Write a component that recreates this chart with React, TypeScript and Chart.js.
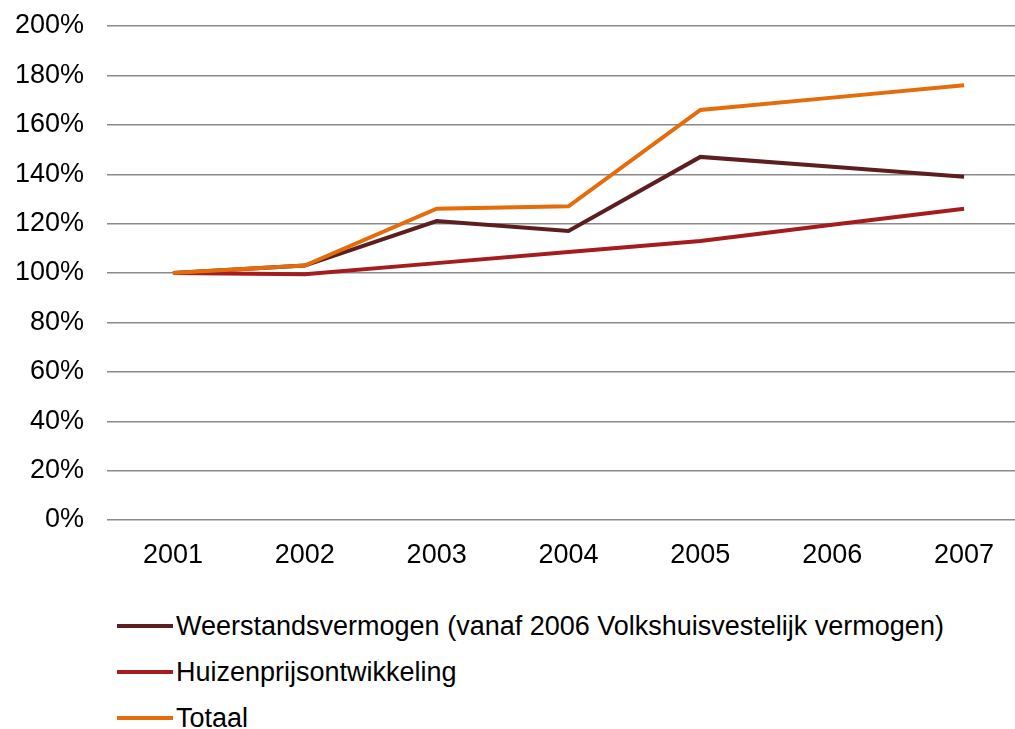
import React, { useEffect, useRef } from "react";
import { Chart, registerables } from "chart.js";

Chart.register(...registerables);

const years = ["2001", "2002", "2003", "2004", "2005", "2006", "2007"];
const weerstand = [100, 103, 121, 117, 147, 143, 139];
const huizen = [100, 99.5, 104, 108.5, 113, 119.5, 126];
const totaal = [100, 103, 126, 127, 166, 171, 176];
const seriesLabels = [
  "Weerstandsvermogen (vanaf 2006 Volkshuisvestelijk vermogen)",
  "Huizenprijsontwikkeling",
  "Totaal",
];
const seriesColors = ["#5C1E1E", "#A51C1F", "#E46C0A"];

const FONT = "'Liberation Sans', Arial, sans-serif";

export default function App() {
  const ref = useRef<HTMLCanvasElement>(null);

  useEffect(() => {
    if (!ref.current) return;
    const chart = new Chart(ref.current, {
      type: "line",
      data: {
        labels: years,
        datasets: [
          { label: seriesLabels[0], data: weerstand, borderColor: seriesColors[0], order: 2 },
          { label: seriesLabels[1], data: huizen, borderColor: seriesColors[1], order: 3 },
          { label: seriesLabels[2], data: totaal, borderColor: seriesColors[2], order: 1 },
        ].map((d) => ({
          ...d,
          borderWidth: 4,
          pointRadius: 0,
          pointHoverRadius: 0,
          tension: 0,
          fill: false,
        })),
      },
      options: {
        responsive: false,
        animation: false,
        layout: { padding: { top: 26, left: 0, right: 0, bottom: 0 } },
        plugins: { legend: { display: false }, tooltip: { enabled: false } },
        scales: {
          x: {
            offset: true,
            grid: { display: false, drawTicks: false },
            border: { display: false },
            ticks: { color: "#000", font: { family: FONT, size: 27 }, padding: 19 },
            afterFit: (s: any) => {
              s.height = 60;
              s.paddingLeft = 0;
              s.paddingRight = 0;
            },
          },
          y: {
            min: 0,
            max: 200,
            grid: { color: "#8a8a8a", lineWidth: 1.4, drawTicks: false },
            border: { display: false },
            ticks: {
              stepSize: 20,
              color: "#000",
              padding: 23,
              font: { family: FONT, size: 27 },
              callback: (v: any) => v + "%",
            },
            afterFit: (s: any) => {
              s.width = 107;
              s.paddingTop = 0;
              s.paddingBottom = 0;
            },
          },
        },
      },
    });
    return () => chart.destroy();
  }, []);

  const rowCenters = [626, 672, 718];

  return (
    <div
      style={{
        position: "fixed",
        left: 0,
        top: 0,
        width: 1015,
        height: 729,
        overflow: "hidden",
        background: "#fff",
      }}
    >
      <canvas ref={ref} width={1030} height={580} style={{ position: "absolute", left: 0, top: 0 }} />
      {seriesLabels.map((lab, i) => (
        <div
          key={lab}
          style={{
            position: "absolute",
            left: 117,
            top: rowCenters[i] - 15,
            height: 30,
            display: "flex",
            alignItems: "center",
            whiteSpace: "nowrap",
            fontFamily: FONT,
            fontSize: 27,
            lineHeight: "30px",
            color: "#000",
          }}
        >
          <span
            style={{
              display: "inline-block",
              width: 56,
              height: 4,
              background: seriesColors[i],
              marginRight: 3,
            }}
          />
          <span>{lab}</span>
        </div>
      ))}
    </div>
  );
}
